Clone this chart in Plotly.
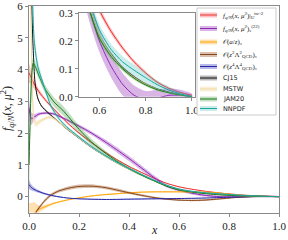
import plotly.graph_objects as go

# ---------------- data ----------------
red_x = [0.0, 0.02, 0.04, 0.07, 0.1, 0.15, 0.2, 0.25, 0.3, 0.35, 0.4, 0.45, 0.5, 0.55, 0.6, 0.65, 0.7, 0.75, 0.8, 0.85, 0.9, 0.95, 1.0]
red_y = [3.9, 3.55, 3.3, 3.0, 2.75, 2.35, 2.0, 1.7, 1.42, 1.17, 0.95, 0.76, 0.58, 0.42, 0.31, 0.235, 0.175, 0.125, 0.085, 0.052, 0.03, 0.015, 0.005]
red_e = [0.3, 0.15, 0.08, 0.05, 0.04, 0.03, 0.03, 0.03, 0.03, 0.03, 0.025, 0.02, 0.02, 0.015, 0.012, 0.01, 0.008, 0.007, 0.006, 0.005, 0.004, 0.003, 0.002]

pur_x = [0.0, 0.005, 0.01, 0.02, 0.04, 0.07, 0.1, 0.15, 0.2, 0.25, 0.3, 0.35, 0.4, 0.45, 0.5, 0.55, 0.6, 0.65, 0.7, 0.75, 0.8, 0.85, 0.9, 0.95, 1.0]
pur_y = [2.8, 2.55, 2.45, 2.5, 2.6, 2.63, 2.6, 2.42, 2.22, 2.0, 1.75, 1.48, 1.2, 0.9, 0.6, 0.34, 0.2, 0.11, 0.045, 0.005, -0.01, -0.005, 0.005, 0.005, 0.0]
pur_e = [0.3, 0.25, 0.2, 0.1, 0.05, 0.04, 0.04, 0.04, 0.05, 0.06, 0.07, 0.08, 0.08, 0.08, 0.07, 0.05, 0.04, 0.04, 0.04, 0.035, 0.03, 0.03, 0.025, 0.02, 0.01]

ora_x = [0.0, 0.01, 0.02, 0.04, 0.07, 0.1, 0.15, 0.2, 0.25, 0.3, 0.35, 0.4, 0.45, 0.5, 0.6, 0.7, 0.75, 0.8, 0.85, 0.9, 0.95, 1.0]
ora_y = [-1.2, -0.75, -0.52, -0.4, -0.3, -0.21, -0.11, -0.04, 0.02, 0.06, 0.09, 0.12, 0.14, 0.15, 0.15, 0.14, 0.12, 0.08, 0.04, 0.015, 0.005, 0.0]
ora_e = [1.0, 0.55, 0.35, 0.12, 0.05, 0.03, 0.02, 0.02, 0.02, 0.02, 0.02, 0.02, 0.02, 0.02, 0.02, 0.02, 0.02, 0.015, 0.01, 0.008, 0.005, 0.003]

bro_x = [0.015, 0.03, 0.05, 0.07, 0.09, 0.12, 0.16, 0.2, 0.25, 0.3, 0.35, 0.4, 0.45, 0.5, 0.55, 0.6, 0.65, 0.7, 0.75, 0.8, 0.85, 0.9, 0.95, 1.0]
bro_y = [-0.85, -0.47, -0.25, -0.07, 0.06, 0.18, 0.27, 0.32, 0.33, 0.29, 0.21, 0.12, 0.04, -0.03, -0.08, -0.11, -0.12, -0.11, -0.08, -0.045, -0.015, 0.0, 0.0, 0.0]
bro_e = [0.06, 0.06, 0.05, 0.05, 0.05, 0.05, 0.06, 0.06, 0.06, 0.05, 0.05, 0.04, 0.04, 0.03, 0.03, 0.03, 0.03, 0.03, 0.025, 0.02, 0.015, 0.01, 0.005, 0.003]

blu_x = [0.0, 0.01, 0.03, 0.06, 0.1, 0.15, 0.2, 0.3, 0.4, 0.5, 0.6, 0.7, 0.8, 0.9, 1.0]
blu_y = [0.38, 0.28, 0.19, 0.1, 0.02, -0.04, -0.07, -0.09, -0.08, -0.07, -0.06, -0.045, -0.02, 0.0, 0.0]
blu_e = [0.14, 0.09, 0.05, 0.03, 0.02, 0.015, 0.015, 0.015, 0.015, 0.015, 0.015, 0.01, 0.01, 0.005, 0.003]

cj_x = [0.008, 0.011, 0.017, 0.024, 0.035, 0.05, 0.075, 0.1, 0.15, 0.2, 0.25, 0.3, 0.35, 0.4, 0.45, 0.5, 0.55, 0.6, 0.65, 0.7, 0.75, 0.8, 0.85, 0.9, 0.95, 1.0]
cj_y = [7.5, 6.0, 4.6, 3.6, 3.1, 2.85, 2.65, 2.48, 2.14, 1.84, 1.55, 1.3, 1.07, 0.87, 0.68, 0.5, 0.34, 0.22, 0.155, 0.105, 0.072, 0.046, 0.028, 0.016, 0.007, 0.0]
cj_e = [0.2, 0.15, 0.1, 0.06, 0.04, 0.03, 0.03, 0.02, 0.02, 0.02, 0.02, 0.02, 0.015, 0.015, 0.012, 0.01, 0.008, 0.006, 0.005, 0.004, 0.003, 0.003, 0.002, 0.002, 0.001, 0.0]

ms_x = [0.004, 0.008, 0.012, 0.016, 0.02, 0.03, 0.05, 0.08, 0.1, 0.15, 0.2, 0.25, 0.3, 0.35, 0.4, 0.45, 0.5, 0.55, 0.6, 0.65, 0.7, 0.75, 0.8, 0.85, 0.9, 0.95, 1.0]
ms_y = [8.0, 5.5, 3.8, 2.8, 2.4, 2.3, 2.4, 2.5, 2.45, 2.15, 1.85, 1.56, 1.3, 1.07, 0.87, 0.68, 0.5, 0.34, 0.22, 0.15, 0.1, 0.068, 0.044, 0.026, 0.014, 0.006, 0.0]
ms_e = [0.4, 0.3, 0.25, 0.2, 0.15, 0.1, 0.06, 0.05, 0.04, 0.03, 0.03, 0.03, 0.03, 0.025, 0.02, 0.02, 0.015, 0.012, 0.01, 0.008, 0.006, 0.005, 0.004, 0.003, 0.002, 0.001, 0.0]

jam_x = [0.0, 0.004, 0.008, 0.012, 0.017, 0.025, 0.04, 0.06, 0.1, 0.135, 0.2, 0.25, 0.3, 0.35, 0.4, 0.45, 0.5, 0.55, 0.6, 0.65, 0.7, 0.75, 0.8, 0.85, 0.9, 0.95, 1.0]
jam_y = [1.0, 2.2, 3.3, 3.95, 4.2, 4.1, 3.8, 3.45, 2.98, 2.72, 2.12, 1.72, 1.4, 1.12, 0.89, 0.68, 0.5, 0.33, 0.21, 0.145, 0.1, 0.066, 0.042, 0.025, 0.014, 0.006, 0.0]
jam_e = [0.9, 0.8, 0.5, 0.3, 0.2, 0.15, 0.12, 0.12, 0.15, 0.15, 0.12, 0.1, 0.08, 0.06, 0.05, 0.04, 0.03, 0.02, 0.015, 0.01, 0.008, 0.006, 0.005, 0.004, 0.003, 0.002, 0.0]

nn_x = [0.01, 0.015, 0.021, 0.035, 0.055, 0.088, 0.12, 0.15, 0.2, 0.25, 0.3, 0.35, 0.4, 0.45, 0.5, 0.55, 0.6, 0.65, 0.7, 0.75, 0.8, 0.85, 0.9, 0.95, 1.0]
nn_y = [8.0, 6.0, 4.9, 4.1, 3.6, 2.85, 2.45, 2.2, 1.88, 1.58, 1.32, 1.09, 0.89, 0.7, 0.52, 0.36, 0.24, 0.17, 0.125, 0.095, 0.068, 0.043, 0.024, 0.01, 0.0]
nn_e = [0.6, 0.4, 0.3, 0.2, 0.12, 0.08, 0.06, 0.05, 0.05, 0.05, 0.04, 0.035, 0.03, 0.025, 0.02, 0.02, 0.02, 0.02, 0.02, 0.02, 0.018, 0.015, 0.012, 0.008, 0.004]

labels = [
    "<i>f</i><sub><i>q</i>/<i>N</i></sub>(<i>x</i>, <i>μ</i><sup>2</sup>)|<sub><i>U</i></sub><sup>tw-2</sup>",
    "<i>f</i><sub><i>q</i>/<i>N</i></sub>(<i>x</i>, <i>μ</i><sup>2</sup>)<sub><i>s</i></sub><sup>(22)</sup>",
    "𝒪(<i>a</i>/<i>z</i>)<sub><i>s</i></sub>",
    "𝒪(<i>z</i><sup>2</sup>Λ<sup>2</sup><sub>QCD</sub>)<sub><i>s</i></sub>",
    "𝒪(<i>z</i><sup>4</sup>Λ<sup>4</sup><sub>QCD</sub>)<sub><i>s</i></sub>",
    "CJ15", "MSTW", "JAM20", "NNPDF",
]
x_ticks = [0.0, 0.2, 0.4, 0.6, 0.8, 1.0]
y_ticks = [0, 1, 2, 3, 4, 5, 6]
inset_x_ticks = [0.6, 0.8, 1.0]
inset_y_ticks = [0.0, 0.1, 0.2, 0.3]

# ---------------- styles ----------------
series = [
    (red_x, red_y, red_e, "#f03232", "rgba(240,80,80,0.35)", True),
    (pur_x, pur_y, pur_e, "#8c28b4", "rgba(160,70,190,0.4)", True),
    (ora_x, ora_y, ora_e, "#ffa500", "rgba(255,180,60,0.4)", False),
    (bro_x, bro_y, bro_e, "#8b4513", "rgba(160,100,60,0.4)", False),
    (blu_x, blu_y, blu_e, "#2525a5", "rgba(80,80,200,0.4)", False),
    (cj_x, cj_y, cj_e, "#111111", "rgba(80,80,80,0.4)", True),
    (ms_x, ms_y, ms_e, "#f0d9a0", "rgba(245,222,170,0.45)", True),
    (jam_x, jam_y, jam_e, "#157a15", "rgba(60,150,60,0.3)", True),
    (nn_x, nn_y, nn_e, "#1aa6a0", "rgba(80,195,190,0.3)", True),
]

fig = go.Figure()

def add(xs, ys, es, col, bcol, xa, ya):
    up = [y + e for y, e in zip(ys, es)]
    lo = [y - e for y, e in zip(ys, es)]
    fig.add_trace(go.Scatter(x=list(xs) + list(xs)[::-1], y=up + lo[::-1], fill="toself",
                             fillcolor=bcol, line=dict(width=0, shape="spline", smoothing=0.7),
                             mode="lines", hoverinfo="skip", showlegend=False, xaxis=xa, yaxis=ya))
    fig.add_trace(go.Scatter(x=xs, y=ys, mode="lines", line=dict(color=col, width=1, shape="spline", smoothing=0.7),
                             showlegend=False, xaxis=xa, yaxis=ya))

for xs, ys, es, col, bcol, ins in series:
    add(xs, ys, es, col, bcol, "x", "y")
for xs, ys, es, col, bcol, ins in series:
    if ins:
        add(xs, ys, es, col, bcol, "x2", "y2")

W, H = 288, 240
def px(x):
    return x / W
def py(y):
    return 1 - y / H

tickfont = dict(family="Liberation Serif, DejaVu Serif, serif", size=11, color="#222")
axcommon = dict(showgrid=False, zeroline=False, showline=True, linecolor="#8a8a8a", linewidth=1,
                mirror=True, ticks="outside", ticklen=3, tickcolor="#8a8a8a", tickfont=tickfont,
                automargin=False, tickmode="array", ticklabeloverflow="allow")

fig.update_layout(
    template="none",
    width=W, height=H, margin=dict(l=0, r=0, t=0, b=0, pad=0),
    paper_bgcolor="white", plot_bgcolor="white", showlegend=False,
    xaxis=dict(domain=[px(29), px(279)], range=[0, 1], tickvals=x_ticks, tickformat=".1f",
               anchor="y", **axcommon),
    yaxis=dict(domain=[py(212.5), py(6)], range=[-0.5, 6], tickvals=y_ticks, tickformat="d",
               anchor="x", **axcommon),
    xaxis2=dict(domain=[px(79), px(195)], range=[0.512, 1.013], tickvals=inset_x_ticks, tickformat=".1f",
                anchor="y2", **axcommon),
    yaxis2=dict(domain=[py(96.7), py(13)], range=[0, 0.3], tickvals=inset_y_ticks, tickformat=".1f",
                anchor="x2", **axcommon),
)

ann = []
shapes = []
# axis titles
ann.append(dict(text="<i>x</i>", x=px(154), y=py(239), xref="paper", yref="paper", showarrow=False,
                xanchor="center", yanchor="bottom",
                font=dict(family="Liberation Serif, serif", size=12, color="#222")))
ann.append(dict(text="<i>f</i><sub><i>q</i>/<i>N</i></sub>(<i>x</i>, <i>μ</i><sup>2</sup>)", x=px(8), y=py(109),
                xref="paper", yref="paper", showarrow=False, textangle=-90, xanchor="center", yanchor="middle",
                font=dict(family="Liberation Serif, serif", size=12, color="#222")))

# legend box
shapes.append(dict(type="rect", xref="paper", yref="paper", x0=px(197), x1=px(276), y0=py(115), y1=py(8),
                   fillcolor="rgba(255,255,255,0.9)", line=dict(color="#cccccc", width=1), layer="above"))
rows = [15, 28.5, 42, 54.5, 66.5, 78, 89, 99, 108.5]
for (xs, ys, es, col, bcol, ins), lab, ry in zip(series, labels, rows):
    shapes.append(dict(type="rect", xref="paper", yref="paper", x0=px(200), x1=px(217), y0=py(ry + 2.5), y1=py(ry - 2.5),
                       fillcolor=bcol, line=dict(width=0), layer="above"))
    shapes.append(dict(type="line", xref="paper", yref="paper", x0=px(200), x1=px(217), y0=py(ry), y1=py(ry),
                       line=dict(color=col, width=1), layer="above"))
    serif = lab.startswith("<") or lab.startswith("𝒪")
    ann.append(dict(text=lab, x=px(221), y=py(ry), xref="paper", yref="paper", xanchor="left", yanchor="middle",
                    showarrow=False,
                    font=dict(family=("Liberation Serif, DejaVu Serif, serif" if serif else "DejaVu Sans, sans-serif"),
                              size=7 if serif else 6.5, color="#222")))

fig.update_layout(annotations=ann, shapes=shapes)
fig.write_html("out.html", config={"displayModeBar": False, "staticPlot": True},
               post_script="document.body.style.margin='0';document.body.style.overflow='hidden';")
